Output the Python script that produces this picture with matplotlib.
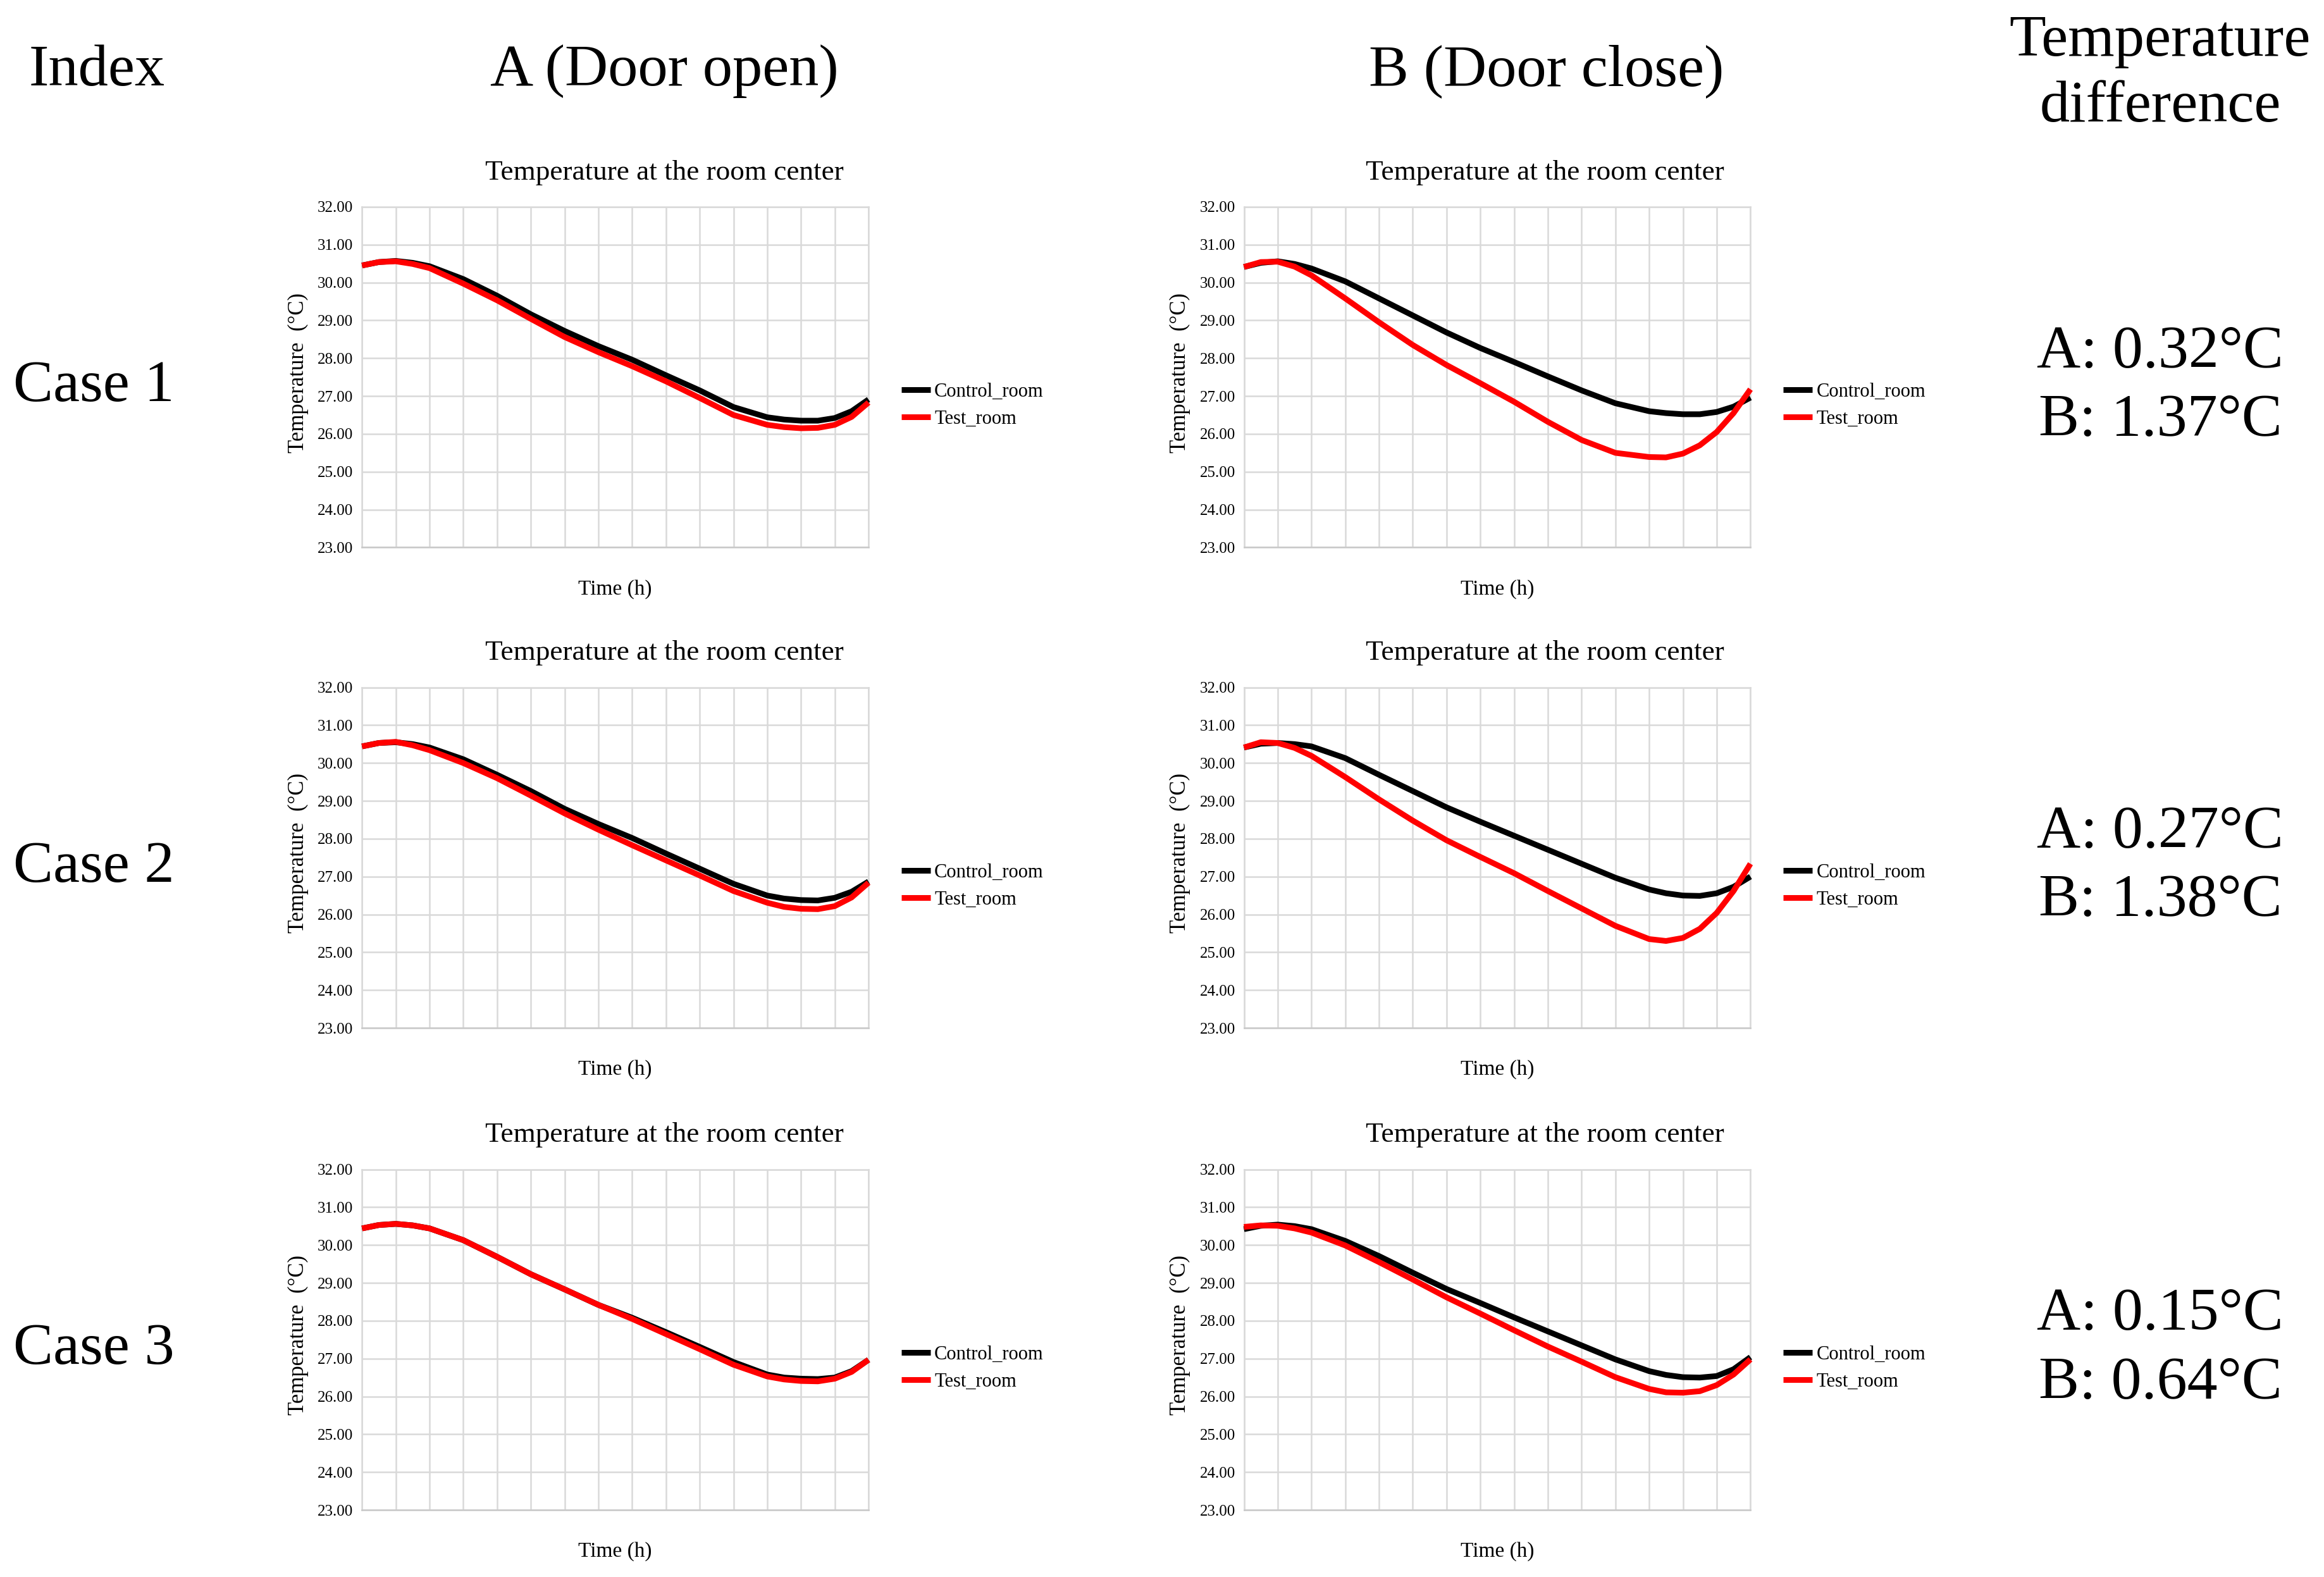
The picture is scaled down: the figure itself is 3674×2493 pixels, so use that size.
import matplotlib
matplotlib.use('Agg')
import matplotlib.pyplot as plt
import numpy as np

plt.rcParams['font.family'] = ['Liberation Serif', 'DejaVu Serif']

# time axis (hours, chart columns)
hours = [0, 0.5, 1, 1.5, 2, 3, 4, 5, 6, 7, 8, 9, 10, 11, 12, 12.5, 13, 13.5, 14, 14.5, 15]

# Case 1
c1_open_control = [30.45, 30.54, 30.57, 30.52, 30.43, 30.09, 29.65, 29.16, 28.72, 28.32, 27.96,
                   27.55, 27.15, 26.71, 26.44, 26.38, 26.35, 26.35, 26.42, 26.60, 26.91]
c1_open_test = [30.45, 30.54, 30.56, 30.49, 30.38, 29.97, 29.53, 29.04, 28.56, 28.16, 27.79,
                27.39, 26.95, 26.50, 26.24, 26.18, 26.15, 26.16, 26.24, 26.45, 26.83]
c1_close_control = [30.41, 30.52, 30.56, 30.49, 30.37, 30.03, 29.58, 29.13, 28.68, 28.27, 27.90,
                    27.52, 27.15, 26.81, 26.60, 26.55, 26.52, 26.52, 26.58, 26.72, 26.96]
c1_close_test = [30.41, 30.54, 30.55, 30.42, 30.19, 29.58, 28.95, 28.35, 27.82, 27.34, 26.85,
                 26.32, 25.84, 25.50, 25.39, 25.38, 25.48, 25.70, 26.05, 26.55, 27.18]

# Case 2
c2_open_control = [30.44, 30.53, 30.55, 30.50, 30.41, 30.10, 29.69, 29.26, 28.79, 28.39, 28.02,
                   27.61, 27.21, 26.81, 26.50, 26.42, 26.38, 26.37, 26.44, 26.60, 26.87]
c2_open_test = [30.44, 30.53, 30.56, 30.47, 30.34, 30.00, 29.60, 29.14, 28.67, 28.24, 27.83,
                27.43, 27.03, 26.62, 26.31, 26.20, 26.15, 26.14, 26.22, 26.45, 26.84]
c2_close_control = [30.41, 30.51, 30.53, 30.50, 30.44, 30.13, 29.69, 29.26, 28.83, 28.45, 28.08,
                    27.71, 27.34, 26.97, 26.66, 26.56, 26.50, 26.49, 26.56, 26.73, 27.00]
c2_close_test = [30.41, 30.55, 30.53, 30.40, 30.19, 29.63, 29.04, 28.48, 27.96, 27.52, 27.09,
                 26.62, 26.16, 25.70, 25.35, 25.30, 25.38, 25.62, 26.04, 26.62, 27.34]

# Case 3
c3_open_control = [30.44, 30.53, 30.56, 30.52, 30.44, 30.13, 29.69, 29.23, 28.83, 28.42, 28.08,
                   27.70, 27.31, 26.91, 26.58, 26.50, 26.47, 26.46, 26.50, 26.67, 26.97]
c3_open_test = [30.44, 30.53, 30.56, 30.52, 30.44, 30.13, 29.69, 29.23, 28.83, 28.42, 28.05,
                27.65, 27.25, 26.84, 26.53, 26.45, 26.41, 26.40, 26.47, 26.65, 26.97]
c3_close_control = [30.42, 30.51, 30.54, 30.50, 30.42, 30.11, 29.71, 29.27, 28.84, 28.47, 28.09,
                    27.72, 27.35, 26.98, 26.67, 26.57, 26.51, 26.50, 26.54, 26.72, 27.04]
c3_close_test = [30.48, 30.52, 30.51, 30.44, 30.33, 29.99, 29.55, 29.09, 28.62, 28.19, 27.75,
                 27.32, 26.92, 26.51, 26.20, 26.11, 26.10, 26.14, 26.30, 26.58, 26.98]

case_labels = ['Case 1', 'Case 2', 'Case 3']
col_headers = ['A (Door open)', 'B (Door close)']
diff_a = ['A: 0.32°C', 'A: 0.27°C', 'A: 0.15°C']
diff_b = ['B: 1.37°C', 'B: 1.38°C', 'B: 0.64°C']
series_names = ['Control_room', 'Test_room']
y_ticks = [23, 24, 25, 26, 27, 28, 29, 30, 31, 32]

data = [
    [(c1_open_control, c1_open_test), (c1_close_control, c1_close_test)],
    [(c2_open_control, c2_open_test), (c2_close_control, c2_close_test)],
    [(c3_open_control, c3_open_test), (c3_close_control, c3_close_test)],
]

W, H = 3674, 2493
fig = plt.figure(figsize=(W / 100, H / 100), dpi=100)

col_left = [243 / 1560, 835 / 1560]
col_width = 340 / 1560
row_bottom = [1 - 368 / 1060, 1 - 691 / 1060, 1 - 1015 / 1060]
row_height = 229 / 1060
title_x = [446 / 1560, 1037 / 1560]
grid_col = '#d9d9d9'

for r in range(3):
    for c in range(2):
        ax = fig.add_axes([col_left[c], row_bottom[r], col_width, row_height])
        ctrl, test = data[r][c]
        ax.plot(hours, ctrl, color='black', lw=6.5, label=series_names[0],
                solid_capstyle='butt', solid_joinstyle='round', clip_on=False, zorder=3)
        ax.plot(hours, test, color='#ff0000', lw=6.5, label=series_names[1],
                solid_capstyle='butt', solid_joinstyle='round', clip_on=False, zorder=4)
        ax.set_xlim(0, 15)
        ax.set_ylim(23, 32)
        ax.set_xticks(np.arange(0, 16))
        ax.set_yticks(y_ticks)
        ax.set_yticklabels([f'{v:.2f}' for v in y_ticks])
        ax.tick_params(axis='x', length=0, labelbottom=False)
        ax.tick_params(axis='y', length=0, labelsize=18, pad=10)
        ax.grid(True, color=grid_col, lw=1.8)
        ax.set_axisbelow(True)
        for s in ax.spines.values():
            s.set_color(grid_col)
            s.set_linewidth(1.8)
        ax.spines['bottom'].set_color('#c8c8c8')

        ax.legend(loc='center left', bbox_to_anchor=(1.065, 0.417), frameon=False,
                  fontsize=22, handlelength=1.5, handletextpad=0.2,
                  labelspacing=0.45, borderpad=0, borderaxespad=0)

        top = row_bottom[r] + row_height
        fig.text(title_x[c], top + 23 / 1060, 'Temperature at the room center',
                 ha='center', va='center', fontsize=32.5)
        fig.text(col_left[c] + col_width / 2, row_bottom[r] - 28 / 1060, 'Time (h)',
                 ha='center', va='center', fontsize=24)
        fig.text(col_left[c] - 43 / 1560, row_bottom[r] + row_height / 2 + 3 / 1060,
                 'Temperature  (°C)', ha='center', va='center', rotation=90, fontsize=25)

# headers
fig.text(65 / 1560, 1 - 48 / 1060, 'Index', ha='center', va='center', fontsize=68)
fig.text(446 / 1560, 1 - 48 / 1060, col_headers[0], ha='center', va='center', fontsize=68)
fig.text(1038 / 1560, 1 - 48 / 1060, col_headers[1], ha='center', va='center', fontsize=68)
fig.text(1450 / 1560, 1 - 28 / 1060, 'Temperature', ha='center', va='center', fontsize=68)
fig.text(1450 / 1560, 1 - 72 / 1060, 'difference', ha='center', va='center', fontsize=68)

case_y = [260, 583, 907]
for r in range(3):
    fig.text(63 / 1560, 1 - case_y[r] / 1060, case_labels[r], ha='center', va='center', fontsize=68)
    fig.text(1450 / 1560, 1 - (case_y[r] - 23) / 1060, diff_a[r], ha='center', va='center', fontsize=69)
    fig.text(1450 / 1560, 1 - (case_y[r] + 23) / 1060, diff_b[r], ha='center', va='center', fontsize=69)

fig.savefig('out.png', dpi=100, facecolor='white')
